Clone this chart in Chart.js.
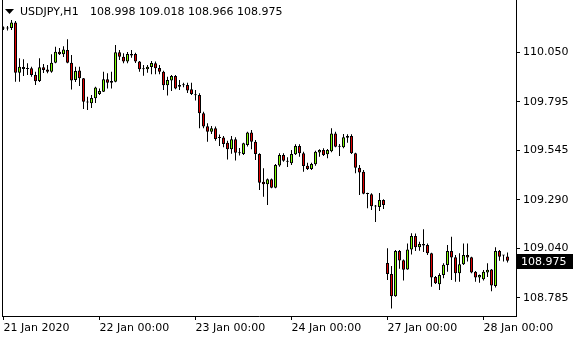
<!DOCTYPE html>
<html>
<head>
<meta charset="utf-8">
<script src="https://cdn.jsdelivr.net/npm/chart.js@4.4.1/dist/chart.umd.min.js"></script>
<style>
  html, body { margin: 0; padding: 0; background: #fff; }
  #wrap { width: 580px; height: 340px; }
</style>
</head>
<body>
<div id="wrap"><canvas id="canvas" width="580" height="340"></canvas></div>
<script>
// USDJPY H1, 21 Jan 2020 00:00 -> 28 Jan 2020 06:00 (one bar per hour, weekend skipped)
const symbolTitle = 'USDJPY,H1';
const lastBar = ['108.998', '109.018', '108.966', '108.975'];
const lastPrice = 108.975;

const opens = [
  110.175, 110.173, 110.175, 110.203, 109.945, 109.974, 109.964, 109.968, 109.933, 109.902,
  109.973, 109.961, 109.950, 109.996, 110.053, 110.040, 110.062, 109.996, 109.907, 109.956,
  109.916, 109.795, 109.787, 109.813, 109.835, 109.847, 109.911, 109.893, 109.898, 110.050,
  110.027, 110.002, 110.034, 110.041, 110.002, 109.964, 109.962, 109.974, 109.993, 109.969,
  109.950, 109.880, 109.905, 109.928, 109.873, 109.881, 109.881, 109.859, 109.832, 109.830,
  109.736, 109.669, 109.641, 109.658, 109.611, 109.611, 109.584, 109.550, 109.602, 109.532,
  109.526, 109.572, 109.636, 109.589, 109.526, 109.383, 109.370, 109.395, 109.352, 109.466,
  109.521, 109.488, 109.478, 109.524, 109.567, 109.529, 109.465, 109.448, 109.473, 109.533,
  109.546, 109.524, 109.540, 109.632, 109.565, 109.560, 109.610, 109.619, 109.529, 109.455,
  109.434, 109.321, 109.318, 109.258, 109.253, 109.289, 108.964, 108.907, 108.792, 109.026,
  108.978, 108.930, 109.034, 109.103, 109.045, 109.062, 109.057, 109.014, 108.892, 108.855,
  108.902, 108.954, 109.026, 108.993, 108.911, 108.957, 109.005, 108.993, 108.919, 108.889,
  108.880, 108.915, 108.930, 108.845, 109.026, 109.003, 108.998
];
const highs = [
  110.183, 110.186, 110.217, 110.211, 110.019, 110.014, 109.993, 109.976, 109.950, 110.019,
  109.990, 109.985, 110.040, 110.079, 110.072, 110.081, 110.117, 110.036, 109.976, 109.976,
  109.918, 109.821, 109.830, 109.873, 109.864, 109.950, 109.942, 109.950, 110.088, 110.062,
  110.045, 110.052, 110.062, 110.048, 110.005, 109.985, 109.985, 110.005, 110.002, 109.985,
  109.955, 109.924, 109.933, 109.933, 109.907, 109.893, 109.893, 109.893, 109.856, 109.839,
  109.744, 109.684, 109.670, 109.667, 109.626, 109.619, 109.594, 109.619, 109.612, 109.557,
  109.584, 109.641, 109.649, 109.598, 109.529, 109.452, 109.400, 109.400, 109.474, 109.529,
  109.529, 109.509, 109.546, 109.576, 109.576, 109.538, 109.481, 109.481, 109.543, 109.550,
  109.555, 109.552, 109.658, 109.641, 109.577, 109.629, 109.627, 109.627, 109.532, 109.469,
  109.443, 109.326, 109.323, 109.263, 109.325, 109.292, 109.040, 108.948, 109.031, 109.031,
  108.982, 109.065, 109.117, 109.116, 109.074, 109.138, 109.065, 109.017, 108.897, 108.911,
  108.962, 109.057, 109.099, 109.005, 109.014, 109.065, 109.065, 108.996, 108.923, 108.905,
  108.928, 108.962, 108.933, 109.045, 109.031, 109.005, 109.018
];
const lows = [
  110.165, 110.162, 110.165, 109.898, 109.898, 109.928, 109.933, 109.924, 109.881, 109.897,
  109.943, 109.942, 109.945, 109.993, 110.036, 110.026, 109.993, 109.858, 109.897, 109.876,
  109.758, 109.753, 109.763, 109.789, 109.830, 109.846, 109.864, 109.864, 109.895, 110.010,
  109.993, 109.993, 110.022, 109.995, 109.950, 109.929, 109.945, 109.937, 109.937, 109.937,
  109.856, 109.827, 109.850, 109.859, 109.856, 109.870, 109.840, 109.830, 109.802, 109.658,
  109.658, 109.589, 109.629, 109.594, 109.567, 109.560, 109.498, 109.527, 109.492, 109.518,
  109.521, 109.565, 109.550, 109.495, 109.340, 109.306, 109.263, 109.349, 109.349, 109.460,
  109.486, 109.459, 109.469, 109.521, 109.512, 109.434, 109.443, 109.443, 109.465, 109.512,
  109.515, 109.504, 109.535, 109.560, 109.515, 109.555, 109.584, 109.526, 109.426, 109.314,
  109.318, 109.246, 109.237, 109.175, 109.232, 109.242, 108.876, 108.729, 108.790, 108.934,
  108.874, 108.929, 109.008, 109.026, 109.027, 109.021, 109.005, 108.842, 108.856, 108.825,
  108.885, 108.919, 108.876, 108.867, 108.867, 108.954, 108.971, 108.911, 108.867, 108.862,
  108.874, 108.892, 108.818, 108.837, 108.976, 108.971, 108.966
];
const closes = [
  110.173, 110.175, 110.203, 109.945, 109.976, 109.964, 109.967, 109.933, 109.901, 109.973,
  109.959, 109.950, 109.996, 110.053, 110.040, 110.064, 109.996, 109.905, 109.954, 109.916,
  109.795, 109.791, 109.814, 109.868, 109.850, 109.911, 109.893, 109.902, 110.050, 110.027,
  110.002, 110.041, 110.041, 110.003, 109.962, 109.962, 109.976, 109.995, 109.968, 109.950,
  109.880, 109.907, 109.928, 109.864, 109.881, 109.880, 109.853, 109.835, 109.828, 109.736,
  109.667, 109.641, 109.658, 109.603, 109.608, 109.577, 109.550, 109.602, 109.532, 109.530,
  109.581, 109.636, 109.589, 109.526, 109.378, 109.370, 109.395, 109.352, 109.469, 109.521,
  109.491, 109.486, 109.526, 109.567, 109.529, 109.464, 109.448, 109.474, 109.538, 109.546,
  109.521, 109.546, 109.632, 109.563, 109.563, 109.612, 109.619, 109.529, 109.455, 109.430,
  109.321, 109.319, 109.256, 109.255, 109.289, 109.263, 108.907, 108.792, 109.026, 108.977,
  108.929, 109.034, 109.103, 109.045, 109.062, 109.054, 109.014, 108.889, 108.859, 108.902,
  108.955, 109.026, 108.992, 108.911, 108.957, 109.005, 108.992, 108.915, 108.889, 108.902,
  108.919, 108.929, 108.848, 109.026, 108.996, 109.003, 108.975
];

// time axis: bar index of each day start, and its label
const dayTickIndex = [0, 24, 48, 72, 96, 120];
const dayLabels = ['21 Jan 2020', '22 Jan 00:00', '23 Jan 00:00', '24 Jan 00:00', '27 Jan 00:00', '28 Jan 00:00'];
// price axis labels
const priceTicks = [110.050, 109.795, 109.545, 109.290, 109.040, 108.785];

const bullColor = '#7cfc00';
const bearColor = '#e00000';
const fontFamily = '"DejaVu Sans", Verdana, sans-serif';

const bodies = opens.map((o, i) => ({ x: i, y: [o, closes[i]] }));
const wicks = lows.map((l, i) => ({ x: i, y: [l, highs[i]] }));
const bodyColors = opens.map((o, i) => (closes[i] >= o ? bullColor : bearColor));

// title, price marker and left frame line
const overlay = {
  id: 'overlay',
  afterDraw(chart) {
    const { ctx, chartArea, scales } = chart;
    ctx.save();
    ctx.fillStyle = '#000';
    ctx.fillRect(chartArea.left, chartArea.top, 1, chartArea.bottom - chartArea.top);

    ctx.beginPath();
    ctx.moveTo(5, 9);
    ctx.lineTo(14, 9);
    ctx.lineTo(9.5, 14);
    ctx.closePath();
    ctx.fill();

    ctx.font = '11px ' + fontFamily;
    ctx.textBaseline = 'middle';
    ctx.fillStyle = '#000';
    ctx.fillText(symbolTitle, 20, 12);
    ctx.fillText(lastBar.join(' '), 90, 12);

    const y = Math.round(scales.y.getPixelForValue(lastPrice));
    ctx.fillRect(scales.y.left + 1, y - 7, 56, 15);
    ctx.fillStyle = '#fff';
    ctx.fillText(lastPrice.toFixed(3), scales.y.left + 5, y + 1);
    ctx.restore();
  }
};

const ctx = document.getElementById('canvas');
new Chart(ctx, {
  type: 'bar',
  data: {
    datasets: [
      {
        label: 'body',
        data: bodies,
        backgroundColor: bodyColors,
        borderColor: '#000',
        borderWidth: 1,
        borderSkipped: false,
        barThickness: 3,
        minBarLength: 1,
        inflateAmount: 0,
      },
      {
        label: 'wick',
        data: wicks,
        backgroundColor: '#000',
        borderWidth: 0,
        barThickness: 1,
        inflateAmount: 0,
      },
    ],
  },
  options: {
    responsive: false,
    animation: false,
    devicePixelRatio: 1,
    layout: { padding: { left: 2, top: 0, right: 0, bottom: 0 } },
    plugins: { legend: { display: false }, tooltip: { enabled: false } },
    scales: {
      x: {
        type: 'linear',
        stacked: true,
        min: -0.375,
        max: 128.125,
        offset: false,
        grid: { display: true, drawOnChartArea: false, offset: false, color: '#000', tickLength: 4 },
        border: { display: true, color: '#000' },
        afterBuildTicks: (scale) => { scale.ticks = dayTickIndex.map(v => ({ value: v })); },
        afterFit: (scale) => { scale.height = 24; scale.paddingLeft = 0; scale.paddingRight = 0; },
        ticks: {
          autoSkip: false,
          maxRotation: 0,
          align: 'start',
          padding: 2,
          color: '#000',
          font: { family: fontFamily, size: 11 },
          callback: (value) => dayLabels[dayTickIndex.indexOf(value)],
        },
      },
      y: {
        position: 'right',
        stacked: false,
        min: 108.6907,
        max: 110.3196,
        grid: { display: true, drawOnChartArea: false, color: '#000', tickLength: 4 },
        border: { display: true, color: '#000' },
        afterBuildTicks: (scale) => { scale.ticks = priceTicks.map(v => ({ value: v })); },
        afterFit: (scale) => { scale.width = 64; scale.paddingTop = 0; scale.paddingBottom = 0; },
        ticks: {
          padding: 3,
          color: '#000',
          font: { family: fontFamily, size: 11 },
          callback: (value) => value.toFixed(3),
        },
      },
    },
  },
  plugins: [overlay],
});
</script>
</body>
</html>
